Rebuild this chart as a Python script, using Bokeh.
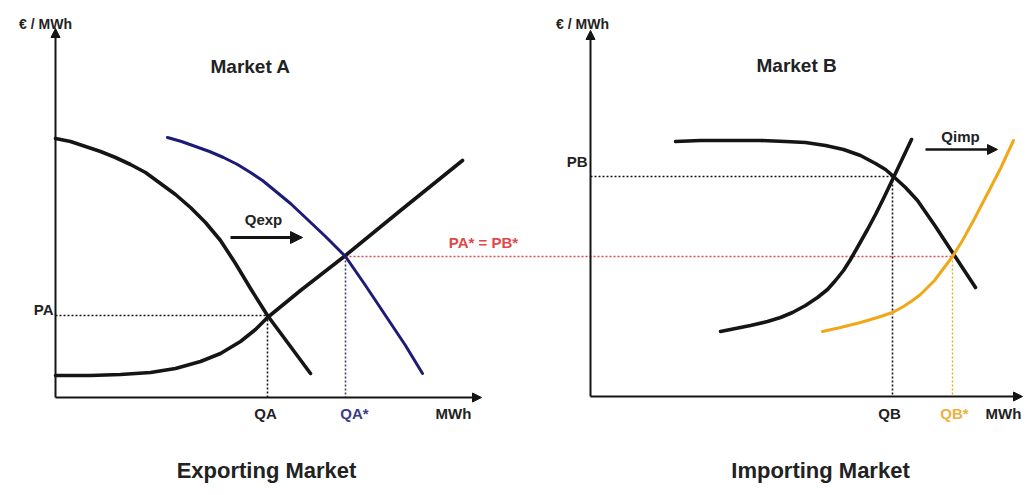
from bokeh.plotting import figure
from bokeh.models import Range1d, Arrow, NormalHead
from bokeh.embed import file_html
from bokeh.resources import INLINE
from bokeh.core.properties import value

# ---------------- data (diagram units = reference pixel grid) ----------------
# Market A (exporting)
demand_a_x = [55, 70, 85, 100, 115, 130, 145, 160, 175, 190, 205, 220, 235, 250, 267, 290, 310]
demand_a_y = [138, 141, 146, 151, 157, 164, 172, 183, 194, 207, 222, 240, 263, 288, 315, 346, 373]
supply_a_x = [55, 90, 120, 150, 175, 200, 220, 240, 255, 267, 300, 345, 400, 462]
supply_a_y = [375, 375, 374, 372, 368, 361, 353, 341, 329, 317, 290, 255, 210, 160]
demand_a_star_x = [167, 181, 195, 209, 223, 237, 250, 262, 273, 290, 307, 325, 345, 365, 385, 405, 422]
demand_a_star_y = [137, 141, 146, 151, 157, 164, 172, 180, 189, 203, 219, 236, 256, 285, 315, 345, 373]

# Market B (importing)
demand_b_x = [675, 700, 730, 760, 785, 805, 825, 843, 860, 875, 885, 893, 905, 917, 935, 952, 975]
demand_b_y = [141, 140, 140, 140, 141, 142, 145, 149, 155, 163, 169, 176, 187, 200, 226, 252, 287]
supply_b_x = [720, 735, 750, 767, 780, 792, 805, 817, 827, 835, 843, 850, 858, 867, 875, 883, 893, 902, 911]
supply_b_y = [331, 328, 325, 321, 317, 312, 305, 297, 289, 280, 270, 259, 245, 229, 214, 198, 177, 158, 139]
supply_b_star_x = [822, 840, 860, 877, 892, 903, 912, 920, 927, 934, 940, 946, 952, 962, 973, 985, 1000, 1013]
supply_b_star_y = [331, 327, 322, 317, 312, 306, 300, 294, 287, 280, 272, 264, 256, 240, 220, 197, 168, 140]

# equilibrium levels
QA, PA = 267, 315
QA_star, P_star = 345, 256
QB, PB = 892, 176
QB_star = 952

# axes
origin_a = (55, 397)
top_a, right_a = 28, 481
origin_b = (590, 396)
top_b, right_b = 30, 1022

# labels
axis_unit_label = "€ / MWh"
quantity_unit_label = "MWh"
market_titles = ["Market  A", "Market  B"]
bottom_titles = ["Exporting Market", "Importing Market"]

# ---------------- figure ----------------
p = figure(width=1023, height=487, x_range=Range1d(0, 1023), y_range=Range1d(487, 0),
           output_backend="svg", toolbar_location=None, min_border=0,
           x_axis_type=None, y_axis_type=None)
p.grid.visible = False
p.outline_line_color = None
p.background_fill_color = "white"

BLACK = "#151515"
NAVY = "#1c1c78"
ORANGE = "#f0a818"
RED = "#e04848"
TXT = "#222222"
FONT = value("Liberation Sans")

# axes with arrowheads
for (ox, oy), top, right in [(origin_a, top_a, right_a), (origin_b, top_b, right_b)]:
    p.add_layout(Arrow(x_start=ox, y_start=oy, x_end=ox, y_end=top, line_width=2,
                       line_color=BLACK,
                       end=NormalHead(size=9, fill_color=BLACK, line_color=BLACK)))
    p.add_layout(Arrow(x_start=ox, y_start=oy, x_end=right, y_end=oy, line_width=2,
                       line_color=BLACK,
                       end=NormalHead(size=9, fill_color=BLACK, line_color=BLACK)))

# dotted guide lines
dash = "2 2"
p.line([origin_a[0], QA], [PA, PA], line_color=BLACK, line_width=1.6, line_dash=dash)
p.line([QA, QA], [PA, origin_a[1]], line_color=BLACK, line_width=1.6, line_dash=dash)
p.line([QA_star, QA_star], [P_star, origin_a[1]], line_color="#40407a", line_width=1.6, line_dash=dash)
p.line([QA_star, QB_star], [P_star, P_star], line_color=RED, line_width=1.4, line_dash=dash)
p.line([origin_b[0], QB], [PB, PB], line_color=BLACK, line_width=1.6, line_dash=dash)
p.line([QB, QB], [PB, origin_b[1]], line_color=BLACK, line_width=1.6, line_dash=dash)
p.line([QB_star, QB_star], [P_star, origin_b[1]], line_color=ORANGE, line_width=1.4, line_dash=dash)

# curves
p.line(demand_a_x, demand_a_y, line_color=BLACK, line_width=3.6, line_join="round", line_cap="round")
p.line(supply_a_x, supply_a_y, line_color=BLACK, line_width=3.6, line_join="round", line_cap="round")
p.line(demand_a_star_x, demand_a_star_y, line_color=NAVY, line_width=3.0, line_join="round", line_cap="round")
p.line(demand_b_x, demand_b_y, line_color=BLACK, line_width=3.6, line_join="round", line_cap="round")
p.line(supply_b_x, supply_b_y, line_color=BLACK, line_width=3.6, line_join="round", line_cap="round")
p.line(supply_b_star_x, supply_b_star_y, line_color=ORANGE, line_width=3.0, line_join="round", line_cap="round")

# shift arrows
p.add_layout(Arrow(x_start=230, y_start=237, x_end=302, y_end=237, line_width=3,
                   line_color=BLACK, end=NormalHead(size=12, fill_color=BLACK, line_color=BLACK)))
p.add_layout(Arrow(x_start=925, y_start=149, x_end=997, y_end=149, line_width=2.5,
                   line_color=BLACK, end=NormalHead(size=10, fill_color=BLACK, line_color=BLACK)))


def label(x, y, txt, size="15px", color=TXT, align="center"):
    p.text(x=[x], y=[y], text=[txt], text_font=FONT, text_font_style="bold",
           text_font_size=size, text_color=color, text_align=align,
           text_baseline="middle")


label(45, 23, axis_unit_label, size="14px")
label(582, 23, axis_unit_label, size="14px")
label(210, 66, market_titles[0], size="19px", align="left")
label(756, 65, market_titles[1], size="19px", align="left")
label(53, 309, "PA", align="right")
label(587, 161, "PB", align="right")
label(QA - 2, 413, "QA")
label(QA_star + 9, 413, "QA*", color="#3a3a8a")
label(453, 413, quantity_unit_label)
label(QB - 3, 413, "QB")
label(QB_star + 2, 413, "QB*", color="#f0b040")
label(1003, 413, quantity_unit_label)
label(263, 219, "Qexp")
label(960, 136, "Qimp")
label(483, 242, "PA* = PB*", color=RED)
label(266, 470, bottom_titles[0], size="22px")
label(820, 470, bottom_titles[1], size="22px")

open("out.html", "w").write(file_html(p, INLINE))
